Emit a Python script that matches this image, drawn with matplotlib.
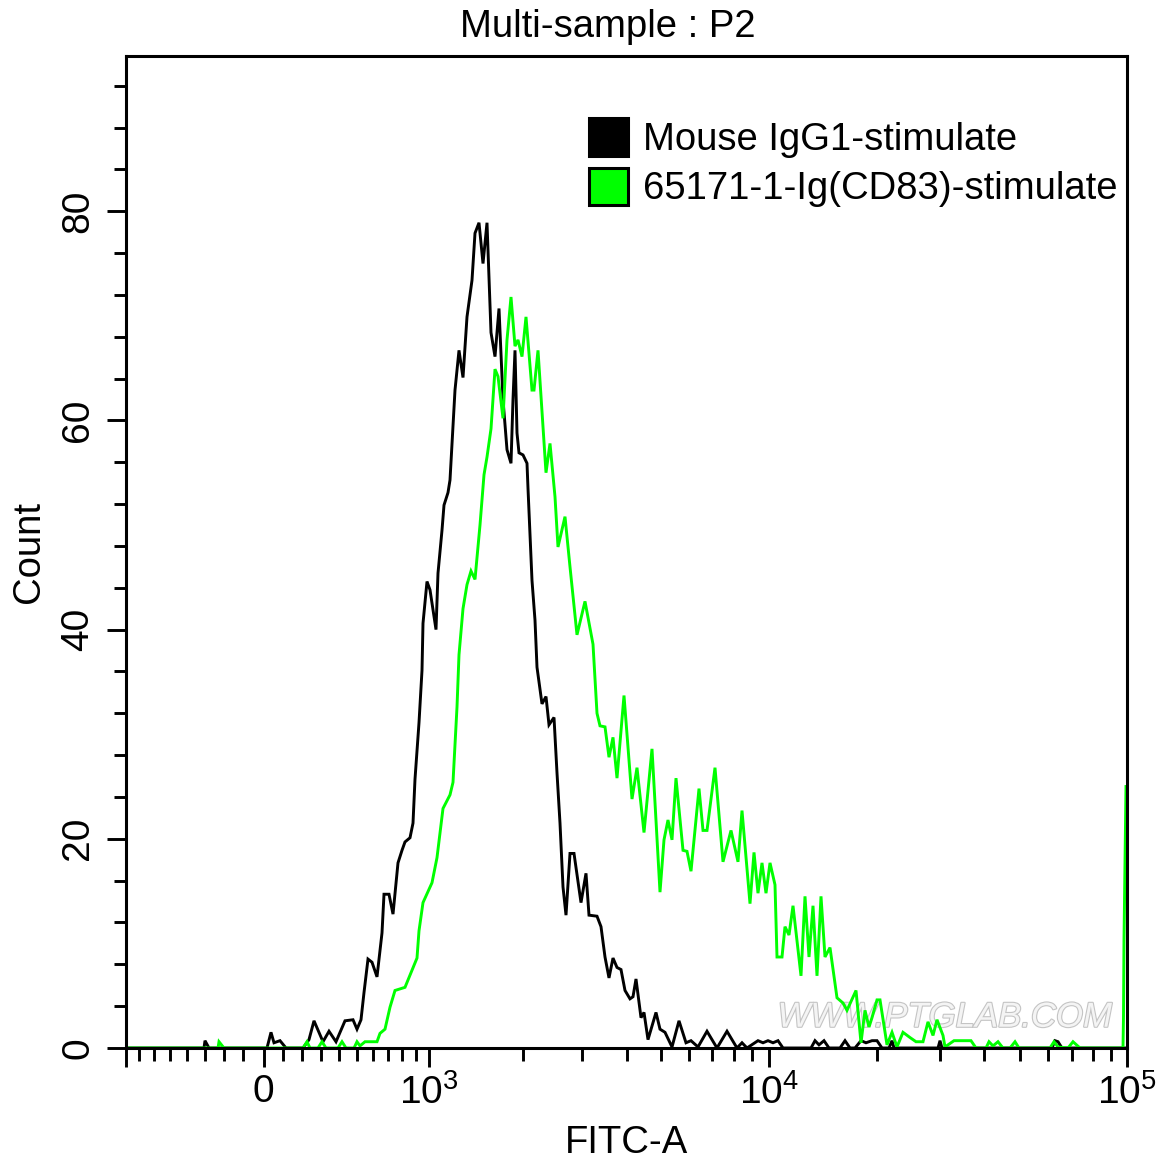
import matplotlib
matplotlib.use('Agg')
import matplotlib.pyplot as plt
import matplotlib.patheffects as pe
from matplotlib.patches import Patch

plt.rcParams['font.family'] = ['Liberation Sans', 'DejaVu Sans']
plt.rcParams['mathtext.fontset'] = 'custom'
plt.rcParams['mathtext.rm'] = 'Liberation Sans'
plt.rcParams['mathtext.default'] = 'regular'

# Histograma: x em canais de exibicao, y em contagem
canal_preto = [0, 78, 79, 83, 141, 145, 148, 154, 160, 177, 183, 188, 197, 203, 210, 219, 227, 231, 235, 238,
               242, 246, 251, 256, 258, 263, 267, 272, 276, 279, 284, 287, 289, 293, 296, 297, 301, 304, 310, 312,
               316, 318, 322, 324, 326, 329, 333, 337, 341, 346, 349, 353, 357, 361, 363, 365, 369, 373, 377, 381,
               385, 387, 389, 391, 393, 397, 401, 402, 406, 409, 411, 416, 420, 423, 428, 431, 434, 437, 440, 444,
               448, 455, 460, 463, 471, 475, 479, 483, 487, 491, 495, 499, 504, 507, 510, 515, 518, 522, 530, 534,
               539, 546, 553, 560, 565, 572, 581, 591, 601, 611, 616, 621, 632, 637, 642, 647, 652, 657, 685, 689,
               693, 698, 703, 714, 719, 724, 729, 735, 740, 746, 751, 756, 763, 766, 768, 812, 814, 816, 926, 929,
               932, 936, 1001]
contagem_preto = [0, 0, 0.7, 0, 0, 1.5, 0.5, 0.7, 0, 0, 0.8, 2.6, 0.6, 1.6, 0.6, 2.6, 2.7, 1.8, 2.7, 5.3,
                  8.5, 8.2, 6.8, 11.0, 14.7, 14.7, 12.8, 17.7, 18.9, 19.7, 20.1, 21.5, 25.7, 31.1, 36.1, 40.6, 44.6, 43.8, 40.0, 45.4,
                  49.5, 51.9, 53.1, 54.3, 57.8, 62.9, 66.7, 64.1, 69.9, 73.4, 77.9, 78.9, 75.0, 78.9, 73.7, 68.4, 66.1, 70.7, 62.0, 57.2,
                  55.9, 62.0, 66.7, 58.8, 56.9, 56.7, 55.9, 53.5, 44.7, 40.9, 36.4, 32.9, 33.6, 30.9, 31.6, 26.3, 21.5, 15.4, 12.7, 18.6,
                  18.6, 13.9, 16.7, 12.7, 12.6, 11.6, 8.7, 6.7, 8.6, 7.7, 7.5, 5.5, 4.7, 4.9, 6.6, 2.9, 3.4, 0.8, 3.4, 1.8,
                  1.5, 0.1, 2.6, 0.5, 0.7, 0.1, 1.6, 0, 1.6, 0, 0.5, 0, 0.7, 0.5, 0.7, 0.5, 0.7, 0, 0, 0.7,
                  0.3, 0.7, 0, 0, 0.7, 0, 0, 0.7, 0.5, 0.7, 0.7, 0, 0, 0.7, 0, 0, 0.7, 0, 0, 0.7,
                  0.6, 0, 0]

canal_verde = [0, 92, 93, 98, 177, 181, 184, 192, 196, 200, 212, 216, 220, 228, 231, 234, 239, 251, 254, 259,
               264, 269, 279, 291, 293, 297, 306, 311, 315, 317, 324, 327, 331, 333, 337, 341, 345, 349, 354, 358,
               361, 365, 369, 372, 377, 381, 385, 389, 392, 396, 400, 406, 408, 412, 420, 424, 429, 432, 439, 444,
               451, 459, 467, 471, 474, 479, 483, 487, 491, 498, 506, 511, 518, 526, 534, 538, 542, 546, 550, 557,
               561, 565, 573, 577, 581, 589, 597, 605, 612, 616, 624, 628, 632, 636, 640, 644, 649, 651, 656, 659,
               663, 667, 675, 679, 683, 687, 691, 695, 699, 704, 711, 717, 721, 730, 735, 739, 743, 746, 751, 754,
               761, 766, 771, 777, 784, 790, 797, 802, 807, 811, 817, 819, 828, 845, 850, 860, 863, 867, 872, 877,
               884, 889, 893, 924, 928, 932, 942, 947, 954, 997, 997.5, 998, 999, 1000, 1001]
contagem_verde = [0, 0, 0.6, 0, 0, 0.6, 0, 0, 0.6, 0, 0, 0.6, 0, 0, 0.6, 0.2, 0.6, 0.6, 1.4, 1.8,
                  3.9, 5.5, 5.8, 8.6, 11.2, 13.9, 15.8, 18.2, 21.3, 22.9, 24.2, 25.4, 32.6, 37.6, 42.0, 44.3, 45.6, 44.8, 50.0, 54.8,
                  56.5, 59.2, 64.9, 64.2, 60.2, 67.7, 71.8, 67.1, 67.7, 66.1, 69.9, 62.9, 62.9, 66.7, 55.0, 57.8, 52.7, 47.9, 50.8, 46.0,
                  39.5, 42.7, 38.6, 32.0, 30.8, 30.7, 27.8, 29.7, 25.8, 33.7, 23.8, 26.8, 20.6, 28.6, 14.9, 19.9, 21.8, 19.9, 25.8, 18.9,
                  18.8, 16.9, 24.8, 20.8, 20.8, 26.8, 17.8, 20.8, 17.8, 22.7, 13.8, 18.7, 14.8, 17.7, 14.8, 17.7, 15.6, 8.7, 8.7, 11.6,
                  10.8, 13.6, 6.9, 14.5, 8.7, 13.6, 6.9, 14.5, 8.7, 9.6, 4.8, 4.3, 3.6, 5.5, 0.5, 3.6, 2.0, 2.9, 4.6, 4.6,
                  0.3, 1.5, 0.1, 1.5, 1.0, 0.6, 0.6, 2.5, 1.2, 2.7, 1.2, 0.1, 0.7, 0.7, 0, 0, 0.6, 0.2, 0.6, 0,
                  0, 0.6, 0, 0, 0.6, 0.1, 0, 0.6, 0, 0, 3.0, 10.3, 17.6, 25.0, 25.0]

rotulos_series = ['Mouse IgG1-stimulate', '65171-1-Ig(CD83)-stimulate']
cores_series = ['#000000', '#00ff00']

# Eixo biexponencial: posicao de cada marca em canais
marcas_x = [0, 137.5, 303, 642.5, 1001]
rotulos_x = ['', '0', '$10^3$', '$10^4$', '$10^5$']
marcas_x_menores = [13, 28, 44, 61, 79, 98, 117, 157, 176, 195, 213, 231, 247, 262, 276, 290,
                    397, 456, 501, 534.5, 562.5, 586, 607.5, 625.5,
                    750.5, 813.7, 858, 893.5, 921.5, 946, 967, 985]
marcas_y = [0, 20, 40, 60, 80]
marcas_y_menores = [4, 8, 12, 16, 24, 28, 32, 36, 44, 48, 52, 56, 64, 68, 72, 76, 84, 88, 92]

L, A = 1175, 1165
fig = plt.figure(figsize=(L / 100, A / 100), dpi=100)
ax = fig.add_axes([126 / L, (A - 1048) / A, 1001 / L, 992 / A])

ax.text(0.818, 0.031, 'WWW.PTGLAB.COM', transform=ax.transAxes, ha='center', va='center',
        fontsize=25, fontstyle='italic', color='#f4f4f4', zorder=1,
        path_effects=[pe.withStroke(linewidth=1.6, foreground='#c4c4c4')])

ax.plot(canal_preto, contagem_preto, color=cores_series[0], lw=2.1, solid_joinstyle='miter')
ax.plot(canal_verde, contagem_verde, color=cores_series[1], lw=2.1, solid_joinstyle='miter')

ax.set_xlim(0, 1001)
ax.set_ylim(0, 94.84)

ax.set_xticks(marcas_x)
ax.set_xticklabels(rotulos_x)
ax.set_xticks(marcas_x_menores, minor=True)
ax.set_yticks(marcas_y)
ax.set_yticks(marcas_y_menores, minor=True)
ax.tick_params(axis='both', which='major', length=13.5, width=2.1, labelsize=28)
ax.tick_params(axis='both', which='minor', length=9, width=2.1)
ax.tick_params(axis='x', which='major', pad=5)
ax.tick_params(axis='y', which='major', pad=8)
for rotulo in ax.get_yticklabels():
    rotulo.set_rotation(90)
    rotulo.set_va('center')

for lado in ax.spines.values():
    lado.set_linewidth(2.2)

ax.set_xlabel('FITC-A', fontsize=27.5, va='center')
ax.xaxis.set_label_coords(0.5, -0.0958)
ax.set_ylabel('Count', fontsize=27.5, va='center')
ax.yaxis.set_label_coords(-0.097, 0.5)
ax.set_title('Multi-sample : P2', fontsize=27.5, x=0.4815, y=1.0, pad=14)

elementos = [Patch(facecolor=c, edgecolor='black', linewidth=2.2) for c in cores_series]
ax.legend(elementos, rotulos_series, loc='upper left', bbox_to_anchor=(0.463, 0.937), frameon=False,
          fontsize=27.5, handlelength=1.0, handleheight=1.15, handletextpad=0.4, labelspacing=0.24,
          borderpad=0, borderaxespad=0)

fig.savefig('out.png', dpi=100)
